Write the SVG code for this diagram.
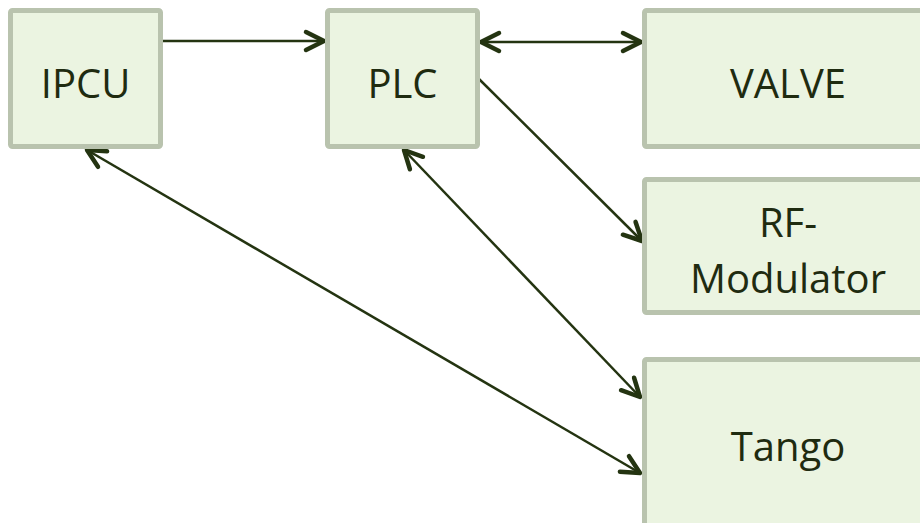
<svg xmlns="http://www.w3.org/2000/svg" width="920" height="523" viewBox="0 0 920 523">
  <style>
    .box { fill: #ebf4e1; stroke: #b9c3ae; stroke-width: 5; }
    .label { font-family: "Open Sans", "Noto Sans", sans-serif; font-size: 40px; fill: #1f2b10; text-anchor: middle; }
    .link { fill: none; stroke: #243411; stroke-width: 2.5; }
  </style>
  <defs>
    <marker id="head" viewBox="0 0 26 26" refX="22" refY="13" markerWidth="26" markerHeight="26" markerUnits="userSpaceOnUse" orient="auto-start-reverse">
      <path d="M4,4 L22,13 L4,22" fill="none" stroke="#243411" stroke-width="4.5" stroke-linecap="round" stroke-linejoin="round"/>
    </marker>
  </defs>

  <g id="connectors">
    <line class="link" x1="163" y1="41" x2="324" y2="41" marker-end="url(#head)"/>
    <line class="link" x1="481" y1="42" x2="641" y2="42" marker-start="url(#head)" marker-end="url(#head)"/>
    <line class="link" x1="479" y1="79" x2="642" y2="241" marker-end="url(#head)"/>
    <line class="link" x1="404" y1="150" x2="640" y2="397" marker-start="url(#head)" marker-end="url(#head)"/>
    <line class="link" x1="87" y1="150" x2="640" y2="473" marker-start="url(#head)" marker-end="url(#head)"/>
  </g>

  <g id="ipcu">
    <rect class="box" x="10.5" y="10.5" width="150" height="136" rx="2"/>
    <text class="label" x="85.5" y="98">IPCU</text>
  </g>
  <g id="plc">
    <rect class="box" x="327.5" y="10.5" width="150" height="136" rx="2"/>
    <text class="label" x="402.5" y="98">PLC</text>
  </g>
  <g id="valve">
    <rect class="box" x="644.5" y="10.5" width="288" height="136" rx="2"/>
    <text class="label" x="788" y="98">VALVE</text>
  </g>
  <g id="rf-modulator">
    <rect class="box" x="644.5" y="179.5" width="288" height="133" rx="2"/>
    <text class="label" x="788" y="237">RF-</text>
    <text class="label" x="788" y="293">Modulator</text>
  </g>
  <g id="tango">
    <rect class="box" x="644.5" y="359.5" width="288" height="180" rx="2"/>
    <text class="label" x="788" y="461">Tango</text>
  </g>
</svg>
